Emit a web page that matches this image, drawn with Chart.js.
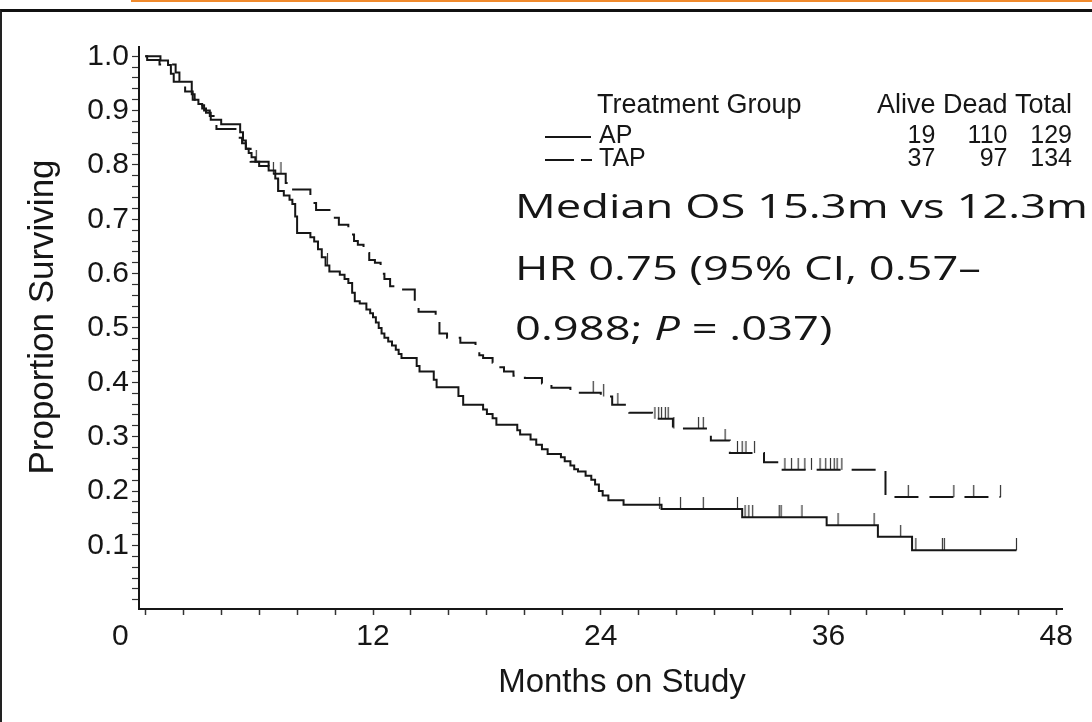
<!DOCTYPE html>
<html>
<head>
<meta charset="utf-8">
<script src="https://cdn.jsdelivr.net/npm/chart.js@4.4.1/dist/chart.umd.min.js"></script>
<style>
  html, body { margin: 0; padding: 0; background: #fff; }
  #page { position: relative; width: 1092px; height: 722px; overflow: hidden; }
  #accent { position: absolute; left: 131px; top: 0; width: 961px; height: 2px; background: #f08a2c; }
  #frame { position: absolute; left: 0; top: 9px; width: 1092px; height: 713px;
           border-top: 3px solid #111; border-left: 2px solid #222; box-sizing: border-box; }
  #chart { position: absolute; left: 0; top: 0; }
</style>
</head>
<body>
<div id="page">
  <div id="accent"></div>
  <div id="frame"></div>
  <canvas id="chart" width="1092" height="722"></canvas>
</div>
<script>
// Kaplan-Meier steps (months, proportion surviving)
const apTimes = [0, 0.8, 1.2, 1.35, 1.5, 2.45, 2.6, 2.8, 3.0, 3.2, 3.45, 4.0, 5.0, 5.15, 5.3, 5.45, 5.6, 5.8, 6.0, 6.5,
  6.85, 7.0, 7.3, 7.6, 7.75, 7.9, 8.0, 8.7, 8.9, 9.1, 9.3, 9.5, 9.7, 10.25, 10.5, 10.7, 10.9, 11.04, 11.3, 11.65,
  11.85, 12.0, 12.15, 12.3, 12.45, 12.6, 12.8, 13.0, 13.2, 13.35, 13.5, 14.3, 14.45, 15.2, 15.35, 16.5, 16.75, 17.8,
  18.0, 18.3, 18.5, 19.6, 19.75, 20.3, 20.6, 20.9, 21.2, 21.9, 22.1, 22.4, 22.6, 22.8, 23.2, 23.5, 23.7, 23.9, 24.1,
  24.4, 25.2, 27.2, 31.45, 35.9, 38.6, 40.4, 45.9];
const apSurv = [1.0, 0.992, 0.984, 0.968, 0.953, 0.93, 0.92, 0.912, 0.904, 0.896, 0.883, 0.875, 0.86, 0.845, 0.83,
  0.822, 0.814, 0.806, 0.798, 0.79, 0.775, 0.752, 0.744, 0.736, 0.728, 0.705, 0.675, 0.667, 0.659, 0.645, 0.63, 0.615,
  0.604, 0.598, 0.59, 0.583, 0.565, 0.549, 0.545, 0.534, 0.527, 0.52, 0.51, 0.5, 0.49, 0.482, 0.475, 0.468, 0.46,
  0.452, 0.445, 0.43, 0.42, 0.405, 0.391, 0.375, 0.359, 0.35, 0.342, 0.334, 0.322, 0.312, 0.304, 0.295, 0.285, 0.277,
  0.268, 0.262, 0.255, 0.247, 0.24, 0.236, 0.228, 0.221, 0.212, 0.2, 0.192, 0.183, 0.175, 0.167, 0.152, 0.137, 0.116,
  0.091, 0.091];

const tapTimes = [0, 0.1, 0.75, 1.6, 1.8, 2.1, 2.5, 2.8, 3.1, 3.4, 3.6, 3.75, 4.9, 5.1, 5.3, 5.55, 6.5, 6.65, 7.4,
  7.7, 8.7, 9.0, 9.9, 10.2, 10.7, 11.0, 11.2, 11.5, 11.8, 12.1, 12.4, 12.6, 12.9, 13.3, 14.2, 14.4, 15.3, 15.5, 15.9,
  16.6, 17.4, 17.6, 17.8, 18.3, 18.6, 18.9, 19.4, 20.0, 20.9, 21.4, 22.4, 24.0, 24.6, 25.5, 26.7, 27.8, 29.8, 30.8,
  32.6, 33.4, 39.0, 45.06];
const tapSurv = [1.0, 0.993, 0.985, 0.97, 0.955, 0.935, 0.92, 0.91, 0.9, 0.89, 0.875, 0.866, 0.85, 0.84, 0.83, 0.806,
  0.797, 0.784, 0.767, 0.755, 0.73, 0.717, 0.703, 0.69, 0.672, 0.66, 0.653, 0.638, 0.625, 0.62, 0.6, 0.59, 0.577,
  0.571, 0.541, 0.53, 0.515, 0.49, 0.482, 0.473, 0.46, 0.45, 0.445, 0.436, 0.428, 0.42, 0.412, 0.408, 0.398, 0.39,
  0.381, 0.374, 0.359, 0.344, 0.333, 0.315, 0.293, 0.27, 0.253, 0.239, 0.189, 0.189];

// censored patients (tick marks)
const apCensorTimes = [7.0, 9.6, 27.1, 28.2, 29.4, 31.2, 31.6, 31.8, 32.0, 33.4, 33.5, 34.6, 36.5, 38.4, 39.8, 40.6,
  42.0, 42.1, 45.9];
const apCensorSurv = [0.752, 0.615, 0.167, 0.167, 0.167, 0.167, 0.152, 0.152, 0.152, 0.152, 0.152, 0.152, 0.137,
  0.137, 0.116, 0.091, 0.091, 0.091, 0.091];
const tapCensorTimes = [5.85, 6.75, 7.15, 23.6, 24.15, 24.9, 26.85, 27.05, 27.2, 27.4, 27.55, 27.85, 29.15, 29.4,
  30.55, 31.2, 31.45, 31.65, 32.1, 33.7, 34.05, 34.4, 34.75, 35.1, 35.55, 35.85, 36.1, 36.3, 36.45, 36.7, 40.2, 42.6,
  43.65, 45.06];
const tapCensorSurv = [0.806, 0.784, 0.784, 0.381, 0.374, 0.359, 0.333, 0.333, 0.333, 0.333, 0.333, 0.315, 0.315,
  0.315, 0.293, 0.27, 0.27, 0.27, 0.27, 0.239, 0.239, 0.239, 0.239, 0.239, 0.239, 0.239, 0.239, 0.239, 0.239, 0.239,
  0.189, 0.189, 0.189, 0.189];

const groups = ['AP', 'TAP'];
const alive = [19, 37];
const dead = [110, 97];
const total = [129, 134];

const xTickLabels = [0, 12, 24, 36, 48];
const yTickLabels = ['0.1', '0.2', '0.3', '0.4', '0.5', '0.6', '0.7', '0.8', '0.9', '1.0'];

const annotationLines = ['Median OS 15.3m vs 12.3m', 'HR 0.75 (95% CI, 0.57\u2013'];

const ink = '#161616';
const helv = '"Liberation Sans", Arial, Helvetica, sans-serif';

function toPoints(xs, ys) {
  return xs.map((x, i) => ({ x: x, y: ys[i] }));
}

// little vertical stroke sitting on top of the curve
function censorMark() {
  const c = document.createElement('canvas');
  c.width = 3;
  c.height = 24;
  const g = c.getContext('2d');
  g.strokeStyle = '#333';
  g.lineWidth = 1.2;
  g.beginPath();
  g.moveTo(1.5, 0);
  g.lineTo(1.5, 12);
  g.stroke();
  return c;
}

const tickMark = censorMark();

// minor tick positions: every 2 months / every 0.02
const xTickValues = [];
for (let m = 0; m <= 48; m += 2) xTickValues.push(m);
const yTickValues = [];
for (let i = 0; i <= 50; i++) yTickValues.push(i / 50);

const textPlugin = {
  id: 'kmText',
  afterDraw(chart) {
    const ctx = chart.ctx;
    const xs = chart.scales.x;
    ctx.save();
    ctx.fillStyle = ink;
    ctx.strokeStyle = ink;

    // origin label is printed left of its tick in the source figure
    ctx.font = '30px ' + helv;
    ctx.textAlign = 'center';
    ctx.textBaseline = 'middle';
    ctx.fillText('0', xs.getPixelForValue(0) - 25, xs.top + 6 + 4 + 30 * 1.2 / 2);

    // axis titles
    ctx.textBaseline = 'alphabetic';
    ctx.font = '33px ' + helv;
    ctx.fillText('Months on Study', 622, 692);
    ctx.save();
    ctx.translate(53, 317);
    ctx.rotate(-Math.PI / 2);
    ctx.font = '35px ' + helv;
    ctx.fillText('Proportion Surviving', 0, 0);
    ctx.restore();

    // group table, columns right-aligned under the header words
    const right = 1072;
    ctx.font = '27px ' + helv;
    const sp = ctx.measureText(' ').width;
    const colTotal = right;
    const colDead = colTotal - ctx.measureText('Total').width - sp;
    const colAlive = colDead - ctx.measureText('Dead').width - sp;
    ctx.textAlign = 'left';
    ctx.fillText('Treatment Group', 597, 113);
    ctx.textAlign = 'right';
    ctx.fillText('Alive', colAlive, 113);
    ctx.fillText('Dead', colDead, 113);
    ctx.fillText('Total', colTotal, 113);

    const rowBase = [143, 166];
    ctx.font = '25px ' + helv;
    groups.forEach((g, i) => {
      ctx.textAlign = 'left';
      ctx.fillText(g, 599, rowBase[i]);
      ctx.textAlign = 'right';
      ctx.fillText(String(alive[i]), colAlive, rowBase[i]);
      ctx.fillText(String(dead[i]), colDead, rowBase[i]);
      ctx.fillText(String(total[i]), colTotal, rowBase[i]);
    });
    ctx.lineWidth = 2;
    ctx.beginPath();
    ctx.moveTo(545, rowBase[0] - 6); ctx.lineTo(591, rowBase[0] - 6);
    ctx.moveTo(545, rowBase[1] - 6); ctx.lineTo(574, rowBase[1] - 6);
    ctx.moveTo(581, rowBase[1] - 6); ctx.lineTo(592, rowBase[1] - 6);
    ctx.stroke();

    // median / HR annotation
    ctx.font = '32px "Open Sans", sans-serif';
    ctx.textAlign = 'left';
    const sx = 573 / ctx.measureText(annotationLines[0]).width;
    ctx.translate(515, 0);
    ctx.scale(sx, 1);
    ctx.fillText(annotationLines[0], 0, 218);
    ctx.fillText(annotationLines[1], 0, 280);
    let x = 0;
    const parts = [['0.988; ', 'normal'], ['P', 'italic'], [' = .037)', 'normal']];
    parts.forEach(p => {
      ctx.font = p[1] + ' 32px "Open Sans", sans-serif';
      ctx.fillText(p[0], x, 340);
      x += ctx.measureText(p[0]).width;
    });
    ctx.restore();
  }
};

new Chart(document.getElementById('chart'), {
  type: 'scatter',
  data: {
    datasets: [
      {
        label: 'AP',
        data: toPoints(apTimes, apSurv),
        showLine: true,
        stepped: true,
        borderColor: ink,
        borderWidth: 2,
        pointRadius: 0,
        fill: false
      },
      {
        label: 'TAP',
        data: toPoints(tapTimes, tapSurv),
        showLine: true,
        stepped: true,
        borderColor: ink,
        borderWidth: 2,
        borderDash: [24, 11],
        pointRadius: 0,
        fill: false
      },
      {
        label: 'AP censored',
        data: toPoints(apCensorTimes, apCensorSurv),
        pointStyle: tickMark,
        pointRadius: 5
      },
      {
        label: 'TAP censored',
        data: toPoints(tapCensorTimes, tapCensorSurv),
        pointStyle: tickMark,
        pointRadius: 5
      }
    ]
  },
  options: {
    responsive: false,
    animation: false,
    layout: { padding: { top: 47, right: 30, left: 0, bottom: 0 } },
    plugins: { legend: { display: false }, tooltip: { enabled: false } },
    scales: {
      x: {
        type: 'linear',
        min: -0.33,
        max: 48.3,
        afterBuildTicks: s => { s.ticks = xTickValues.map(v => ({ value: v })); },
        afterFit: s => { s.height = 113; },
        ticks: {
          autoSkip: false,
          maxRotation: 0,
          padding: 4,
          color: ink,
          font: { family: helv, size: 30 },
          callback: v => (v !== 0 && xTickLabels.includes(v)) ? String(v) : ''
        },
        grid: { drawOnChartArea: false, drawTicks: true, tickLength: 6, tickColor: '#333', tickWidth: 1.5 },
        border: { color: ink, width: 2 }
      },
      y: {
        min: -0.017,
        max: 1.017,
        afterBuildTicks: s => { s.ticks = yTickValues.map(v => ({ value: v })); },
        afterFit: s => { s.width = 139; },
        ticks: {
          autoSkip: false,
          padding: 3,
          color: ink,
          font: { family: helv, size: 30 },
          callback: v => {
            const k = Math.round(v * 50);
            return (k > 0 && k % 5 === 0) ? yTickLabels[k / 5 - 1] : '';
          }
        },
        grid: { drawOnChartArea: false, drawTicks: true, tickLength: 7, tickColor: '#333', tickWidth: 1.2 },
        border: { color: ink, width: 2 }
      }
    }
  },
  plugins: [textPlugin]
});
</script>
</body>
</html>
